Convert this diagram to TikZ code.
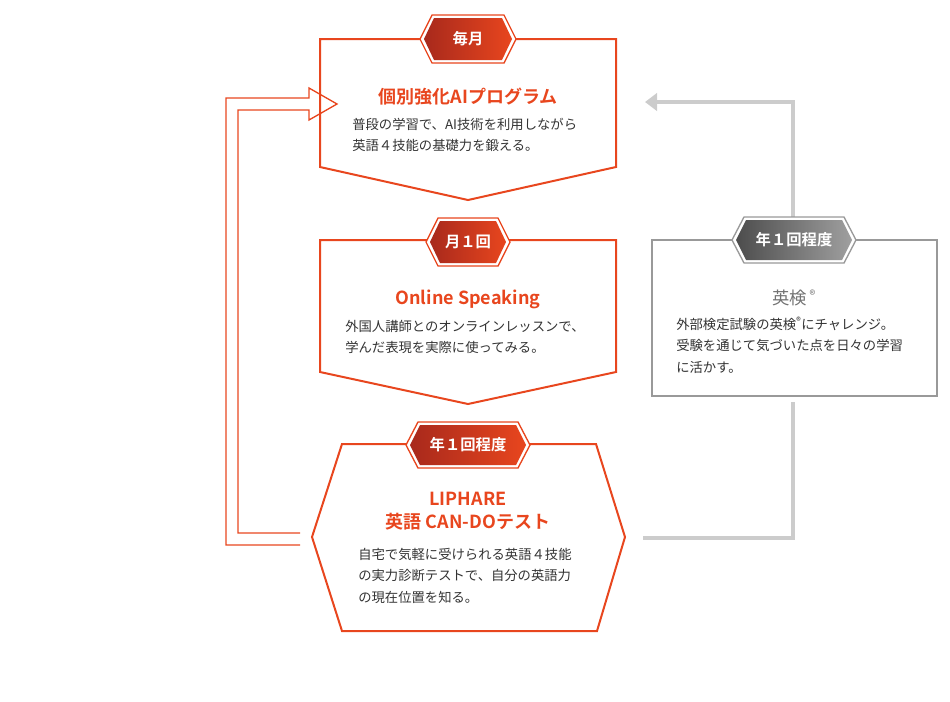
\documentclass[tikz,border=0pt]{standalone}
\usepackage{fontspec}
\setmainfont{Noto Sans CJK JP}[BoldFont=* Bold]
\usetikzlibrary{arrows.meta}
\definecolor{liorange}{HTML}{E8461E}
\definecolor{lidark}{HTML}{A8291C}
\definecolor{litext}{HTML}{333333}
\definecolor{ligray}{HTML}{CCCCCC}
\tikzset{
  framebox/.style={draw=liorange, line width=1.5pt, line join=miter},
  graybox/.style={draw=gray!80, line width=0.9pt},
  title/.style={text=liorange, font=\fontsize{13.5}{17}\selectfont\bfseries, align=center},
  body/.style={text=litext, font=\fontsize{10}{16}\selectfont, align=left, anchor=north west, inner sep=0pt},
  tagtext/.style={text=white, font=\fontsize{11.5}{13}\selectfont\bfseries},
  flow/.style={ligray, line width=3pt},
}
% hexagonal tag: centre x, centre y, half width, half height, left colour, right colour, border colour
\newcommand{\tagbox}[7]{
  \fill[white] (#1-#3-12,#2) -- (#1-#3,#2-#4-3) -- (#1+#3,#2-#4-3) -- (#1+#3+12,#2) -- (#1+#3,#2+#4+3) -- (#1-#3,#2+#4+3) -- cycle;
  \draw[#7, line width=1pt] (#1-#3-12,#2) -- (#1-#3,#2-#4-3) -- (#1+#3,#2-#4-3) -- (#1+#3+12,#2) -- (#1+#3,#2+#4+3) -- (#1-#3,#2+#4+3) -- cycle;
  \shade[left color=#5, right color=#6] (#1-#3-8,#2) -- (#1-#3+2,#2-#4) -- (#1+#3-2,#2-#4) -- (#1+#3+8,#2) -- (#1+#3-2,#2+#4) -- (#1-#3+2,#2+#4) -- cycle;
}
\begin{document}
\begin{tikzpicture}[x=0.75pt, y=-0.75pt]
\useasboundingbox (0,0) rectangle (950,701);

% left loop arrow
\draw[liorange, line width=1pt, line join=miter]
  (300,545) -- (226,545) -- (226,98) -- (309,98) -- (309,88) -- (337,104)
  -- (309,120) -- (309,110) -- (238,110) -- (238,533) -- (300,533);

% gray return path
\coordinate (ret_start) at (643,538);
\coordinate (ret_low) at (793,538);
\coordinate (ret_mid) at (793,402);
\coordinate (ret_top) at (793,218);
\coordinate (ret_corner) at (793,102);
\coordinate (ret_end) at (645,102);
\draw[flow] (ret_start) -- (ret_low) -- (ret_mid);
\draw[flow, -{Triangle[length=9pt, width=13pt]}] (ret_top) -- (ret_corner) -- (ret_end);

% monthly
\draw[framebox] (320,39) -- (616,39) -- (616,167) -- (468,200) -- (320,167) -- cycle;
\tagbox{468}{39}{36}{21}{lidark}{liorange}{liorange}
\node[tagtext] (tag_month) at (468,39) {毎月};
\node[title] (ai_title) at (468,97) {個別強化AIプログラム};
\node[body] (ai_body) at (352,118) {普段の学習で、AI技術を利用しながら\\英語４技能の基礎力を鍛える。};

% once a month
\draw[framebox] (320,240) -- (616,240) -- (616,372) -- (468,404) -- (320,372) -- cycle;
\tagbox{468}{242}{30}{21}{lidark}{liorange}{liorange}
\node[tagtext] (tag_speak) at (468,242) {月１回};
\node[title] (speak_title) at (468,299) {Online Speaking};
\node[body] (speak_body) at (345,320) {外国人講師とのオンラインレッスンで、\\学んだ表現を実際に使ってみる。};

% yearly test
\draw[framebox] (342,444) -- (596,444) -- (625,537) -- (597,631) -- (342,631) -- (312,537) -- cycle;
\tagbox{468}{445}{50}{20}{lidark}{liorange}{liorange}
\node[tagtext] (tag_test) at (468,445) {年１回程度};
\node[title] (test_title) at (468,511) {LIPHARE\\英語 CAN-DOテスト};
\node[body] (test_body) at (358,548) {自宅で気軽に受けられる英語４技能\\の実力診断テストで、自分の英語力\\の現在位置を知る。};

% eiken
\draw[graybox, fill=white] (652,240) rectangle (937,396);
\tagbox{794}{240}{50}{20}{gray!60!black}{gray!75}{gray!80}
\node[tagtext] (tag_eiken) at (794,240) {年１回程度};
\node[text=gray!90!black, font=\fontsize{13}{16}\selectfont] (eiken_title) at (794,298) {英検\,\textsuperscript{\small ®}};
\node[body] (eiken_body) at (676,317) {外部検定試験の英検\textsuperscript{®}にチャレンジ。\\受験を通じて気づいた点を日々の学習\\に活かす。};
\end{tikzpicture}
\end{document}
